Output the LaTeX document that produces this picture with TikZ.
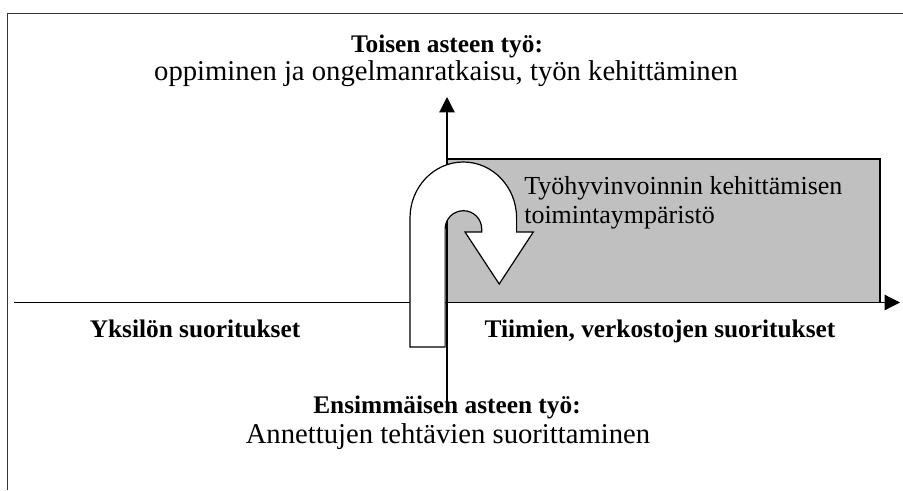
\documentclass[tikz,border=0pt]{standalone}
\usepackage{fontspec}
\setmainfont{Liberation Serif}
\usetikzlibrary{arrows.meta}
\definecolor{areagray}{HTML}{C0C0C0}
\begin{document}
\begin{tikzpicture}[x=0.75pt,y=-0.75pt,
  axis/.style={line width=0.9pt,-{Triangle[length=11.5pt,width=11.5pt]}},
  frame/.style={line width=1.1pt,black!80},
  area/.style={draw=black,line width=0.9pt,fill=areagray},
  uarrow/.style={draw=black,line width=0.9pt,fill=white,line join=miter},
  lbl/.style={font=\fontsize{21.5}{25}\selectfont,inner sep=0pt},
  boxlbl/.style={font=\fontsize{19.5}{23}\selectfont,inner sep=0pt},
  blbl/.style={font=\fontsize{19}{22}\selectfont\bfseries,inner sep=0pt}]
\useasboundingbox (0,0) rectangle (903,490);

% outer frame (open to the right and bottom)
\draw[frame] (7.5,490) -- (7.5,13.5) -- (903,13.5);

% shaded quadrant
\draw[area] (447,159) rectangle (880,302.5);

% axes
\coordinate (hs) at (14,302.5);
\coordinate (he) at (900,302.5);
\coordinate (vs) at (447,404);
\coordinate (ve) at (447,97);
\draw[axis] (hs) -- (he);
\draw[axis] (vs) -- (ve);

% U-turn arrow
\draw[uarrow] (410,347) -- (410,218)
  arc[start angle=180,end angle=360,x radius=53.3,y radius=56]
  -- (516.6,232) -- (533.3,232) -- (499.2,284) -- (465,232) -- (481.7,232)
  -- (481.7,229)
  arc[start angle=360,end angle=180,radius=18.3]
  -- (445.1,347) -- cycle;

% labels
\node[blbl,anchor=base] (top) at (447,52) {Toisen asteen työ:};
\node[lbl,anchor=base] (topsub) at (446,80) {oppiminen ja ongelmanratkaisu, työn kehittäminen};
\node[boxlbl,anchor=base west] (env1) at (524,194) {Työhyvinvoinnin kehittämisen};
\node[boxlbl,anchor=base west] (env2) at (524,223) {toimintaympäristö};
\node[blbl,anchor=base] (left) at (195,337) {Yksilön suoritukset};
\node[blbl,anchor=base] (right) at (660,337) {Tiimien, verkostojen suoritukset};
\node[blbl,anchor=base] (bot) at (447,413) {Ensimmäisen asteen työ:};
\node[lbl,anchor=base] (botsub) at (448,443) {Annettujen tehtävien suorittaminen};
\end{tikzpicture}
\end{document}
